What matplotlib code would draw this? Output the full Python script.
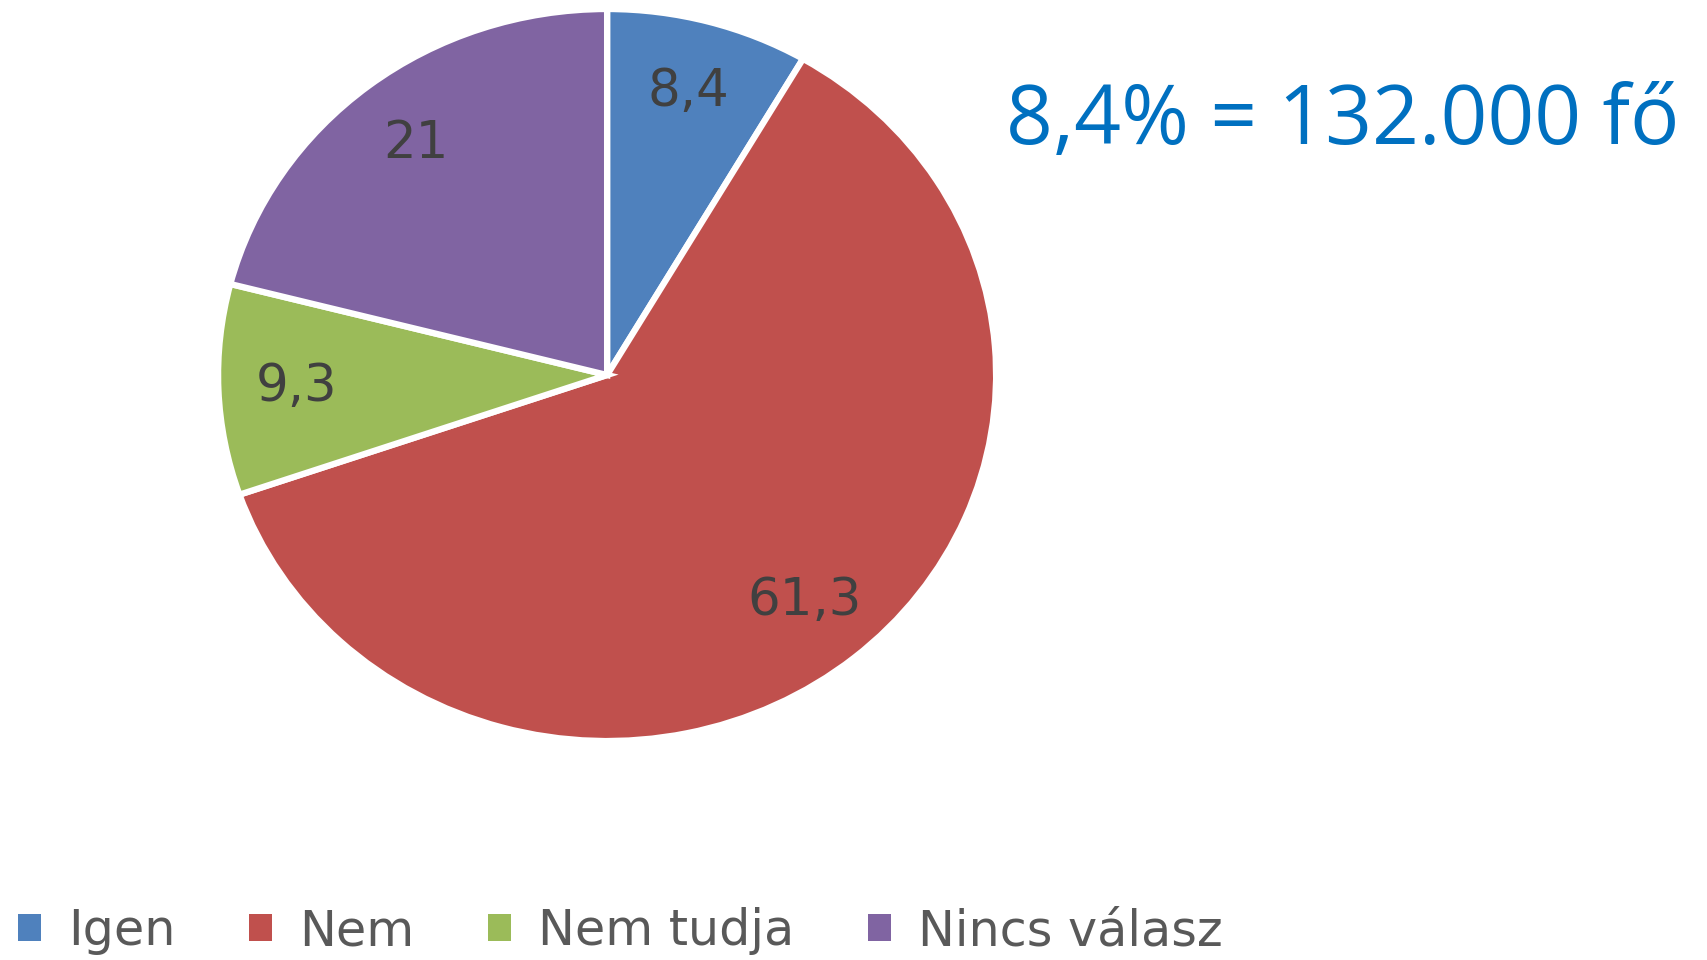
import matplotlib.pyplot as plt
from matplotlib.patches import Patch

# survey answers (percent)
categories = ['Igen', 'Nem', 'Nem tudja', 'Nincs válasz']
values = [8.4, 61.3, 9.3, 21]
labels = ['8,4', '61,3', '9,3', '21']
colors = ['#4F81BD', '#C0504D', '#9BBB59', '#8064A2']
headline = '8,4% = 132.000 fő'

fig = plt.figure(figsize=(17.08, 9.6), dpi=100)
ax = fig.add_axes([0.1277, 0.2281, 0.4555, 0.7625])

wedges, texts = ax.pie(values, labels=labels, colors=colors, startangle=90,
                       counterclock=False, labeldistance=0.8,
                       wedgeprops=dict(edgecolor='white', linewidth=4.5),
                       textprops=dict(fontsize=37, color='#404040',
                                      ha='center', va='center'),
                       frame=False)
ax.set_aspect('auto')
ax.set_xlim(-1, 1)
ax.set_ylim(-1, 1)
ax.axis('off')

fig.text(0.983, 0.85, headline, fontsize=59, color='#0070C0',
         family=['Open Sans', 'DejaVu Sans'], ha='right', va='baseline')

handles = [Patch(facecolor=c, edgecolor='none') for c in colors]
fig.legend(handles, categories, loc='lower left', bbox_to_anchor=(-0.007, -0.026),
           ncol=4, frameon=False, fontsize=35.5, labelcolor='#595959',
           handlelength=0.47, handleheight=0.47, handletextpad=0.55,
           columnspacing=1.49, borderaxespad=0.2)

fig.savefig('out.png', dpi=100)
